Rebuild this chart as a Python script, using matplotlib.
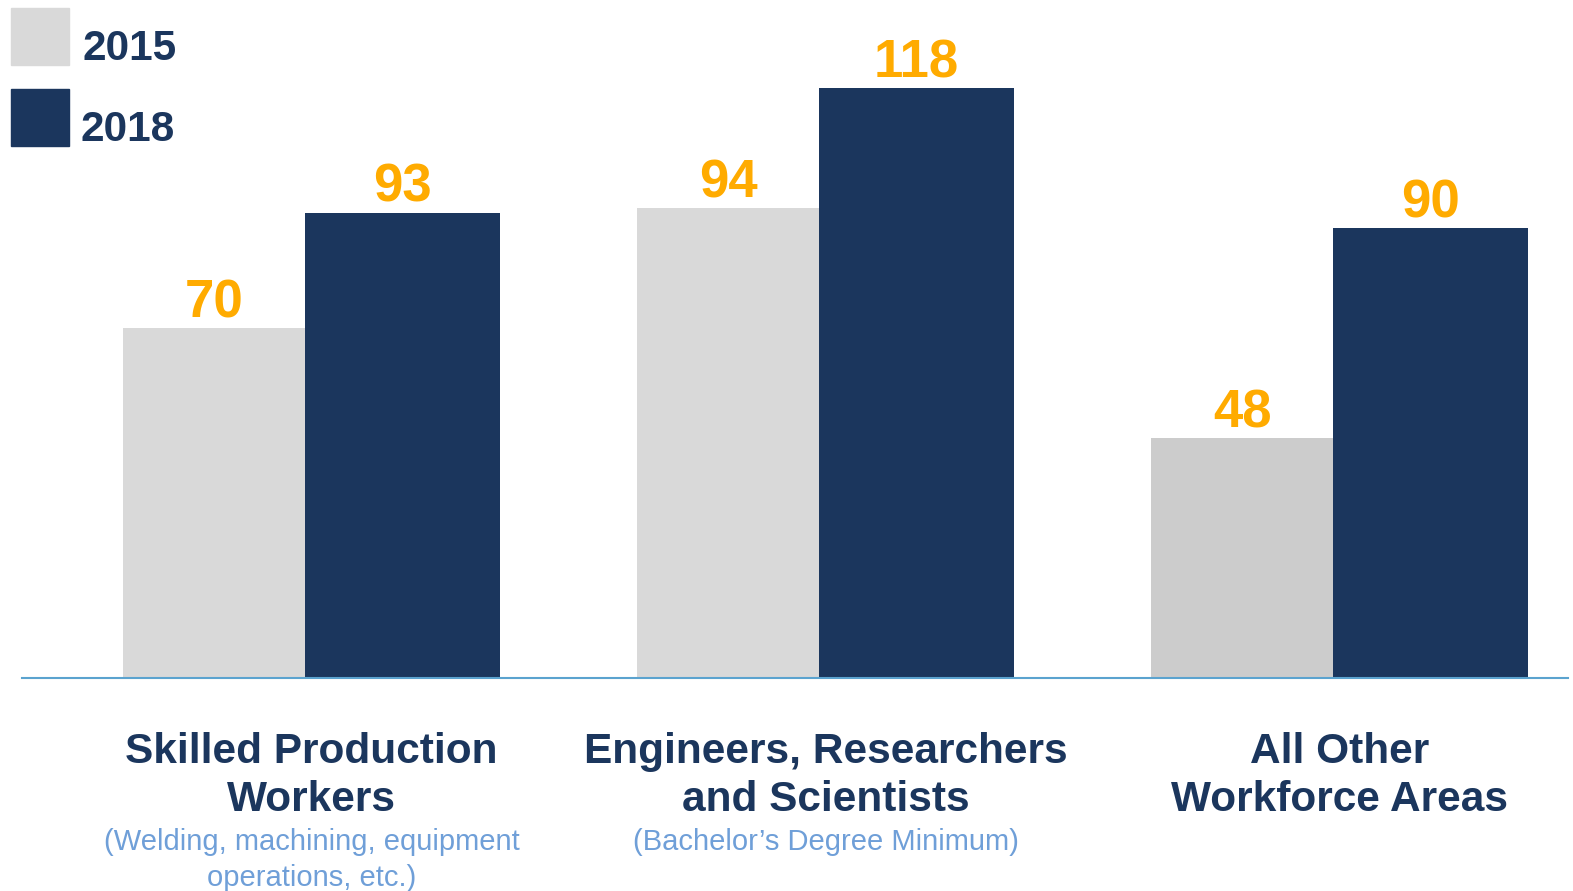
import numpy as np
import matplotlib.pyplot as plt
from matplotlib.patches import Rectangle

plt.rcParams['font.family'] = ['Liberation Sans', 'DejaVu Sans']

# Workforce demand by area (values shown above each bar)
categories = ["Skilled Production\nWorkers", "Engineers, Researchers\nand Scientists", "All Other\nWorkforce Areas"]
subtitles = ["(Welding, machining, equipment\noperations, etc.)", "(Bachelor\u2019s Degree Minimum)", ""]
years = ["2015", "2018"]
values_2015 = [70, 94, 48]
values_2018 = [93, 118, 90]

NAVY = "#1b365d"
GRAY = ["#d9d9d9", "#d9d9d9", "#cccccc"]
ORANGE = "#ffab00"
SUB_BLUE = "#6f9fd8"
AXIS_BLUE = "#5ba3cf"

W, H, DPI = 1573, 891, 100
fig = plt.figure(figsize=(W / DPI, H / DPI), dpi=DPI)
ax = fig.add_axes([22 / W, 213 / H, 1546 / W, 678 / H])

x = np.arange(len(categories))
w15, w18 = 0.354, 0.379

b15 = ax.bar(x, values_2015, width=-w15, align="edge", color=GRAY, zorder=2)
b18 = ax.bar(x, values_2018, width=w18, align="edge", color=NAVY, zorder=2)

for bars, vals in ((b15, values_2015), (b18, values_2018)):
    for bar, v in zip(bars, vals):
        ax.annotate(f"{v}", xy=(bar.get_x() + bar.get_width() / 2, v),
                    xytext=(0, 0), textcoords="offset points",
                    ha="center", va="bottom", fontsize=38, weight="bold",
                    color=ORANGE)

ax.set_xlim(-0.551, 2.457)
ax.set_ylim(0, 678 / 5.0)

for s in ("top", "right", "left"):
    ax.spines[s].set_visible(False)
ax.spines["bottom"].set_color(AXIS_BLUE)
ax.spines["bottom"].set_linewidth(1.5)
ax.spines["bottom"].set_zorder(3)
ax.set_xticks([])
ax.set_yticks([])

# category labels under the axis
centers = x + (w18 - w15) / 2
for cx, cat, sub in zip(centers, categories, subtitles):
    ax.annotate(cat, xy=(cx, 0), xycoords=("data", "axes fraction"),
                xytext=(0, -39), textcoords="offset points",
                ha="center", va="top", fontsize=30.5, weight="bold",
                color=NAVY, linespacing=1.24, annotation_clip=False)
    if sub:
        ax.annotate(sub, xy=(cx, 0), xycoords=("data", "axes fraction"),
                    xytext=(0, -108), textcoords="offset points",
                    ha="center", va="top", fontsize=21, color=SUB_BLUE,
                    linespacing=1.36, annotation_clip=False)

# legend swatches in the top-left corner
for i, (yr, col) in enumerate(zip(years, ["#d9d9d9", NAVY])):
    top = 8 + i * 81
    fig.patches.append(Rectangle((11 / W, 1 - (top + 57) / H), 58 / W, 57 / H,
                                 transform=fig.transFigure, color=col))
    fig.text((83 - 3 * i) / W, 1 - (top + 41) / H, yr, ha="left", va="center",
             fontsize=30.5, weight="bold", color=NAVY)

fig.savefig("out.png", dpi=DPI)
